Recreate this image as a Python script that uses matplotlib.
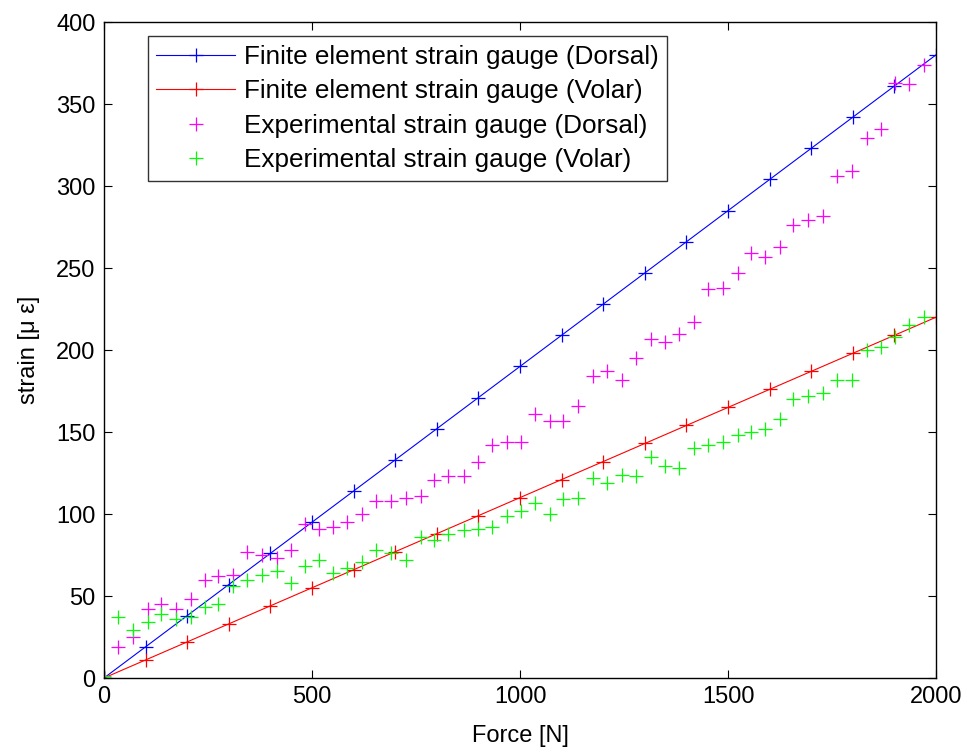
import numpy as np
import matplotlib
matplotlib.use('Agg')
import matplotlib.pyplot as plt

# finite element results, every 100 N
force_fe = [0, 100, 200, 300, 400, 500, 600, 700, 800, 900, 1000,
            1100, 1200, 1300, 1400, 1500, 1600, 1700, 1800, 1900, 2000]
fe_dorsal = [0, 19, 38, 57, 76, 95, 114, 133, 152, 171, 190,
             209, 228, 247, 266, 285, 304, 323, 342, 361, 380]
fe_volar = [0, 11, 22, 33, 44, 55, 66, 77, 88, 99, 110,
            121, 132, 143, 154, 165, 176, 187, 198, 209, 220]

# experimental readings
force_exp = [0, 34, 70, 105, 137, 173, 209, 243, 275, 311, 343, 381, 415, 449,
             483, 517, 551, 585, 621, 655, 691, 726, 762, 794, 828, 866, 900,
             932, 968, 1002, 1036, 1072, 1104, 1140, 1176, 1210, 1244, 1278,
             1314, 1349, 1383, 1419, 1451, 1487, 1523, 1555, 1589, 1625, 1657,
             1693, 1729, 1763, 1797, 1833, 1867, 1901, 1936, 1971]
exp_dorsal = [0, 19, 25, 42, 45, 42, 48, 60, 62, 63, 77, 75, 73, 78,
              94, 91, 92, 95, 100, 108, 108, 110, 111, 121, 123, 123, 132,
              142, 144, 144, 161, 157, 157, 166, 184, 187, 182, 195,
              207, 205, 210, 217, 237, 238, 247, 259, 257, 263, 276,
              279, 282, 306, 309, 329, 335, 363, 362, 374]
exp_volar = [1, 37, 29, 34, 39, 36, 37, 43, 45, 56, 60, 63, 65, 58,
             68, 72, 64, 67, 71, 78, 76, 72, 86, 84, 88, 90, 91,
             92, 99, 102, 107, 100, 109, 110, 122, 119, 124, 123,
             135, 129, 128, 140, 142, 144, 148, 150, 152, 158, 170,
             172, 174, 182, 182, 200, 202, 208, 215, 220]

labels = ['Finite element strain gauge (Dorsal)',
          'Finite element strain gauge (Volar)',
          'Experimental strain gauge (Dorsal)',
          'Experimental strain gauge (Volar)']

plt.rcParams['font.family'] = ['Liberation Sans', 'DejaVu Sans']

fig = plt.figure(figsize=(9.67, 7.52), dpi=100)
ax = fig.add_axes([0.1075, 0.0984, 0.8605, 0.8723])

ms = 10
ax.plot(force_fe, fe_dorsal, '-+', color=(0, 0, 1), lw=0.8, ms=ms, mew=0.9, label=labels[0])
ax.plot(force_fe, fe_volar, '-+', color=(1, 0, 0), lw=0.8, ms=ms, mew=0.9, label=labels[1])
ax.plot(force_exp, exp_dorsal, '+', color=(1, 0, 1), ms=ms, mew=0.9, label=labels[2])
ax.plot(force_exp, exp_volar, '+', color=(0, 1, 0), ms=ms, mew=0.9, label=labels[3])

ax.set_xlim(0, 2000)
ax.set_ylim(0, 400)
ax.set_xticks(np.arange(0, 2001, 500))
ax.set_yticks(np.arange(0, 401, 50))
ax.tick_params(direction='in', length=6, width=0.8, top=True, right=True,
               labelsize=17, pad=6)
for sp in ax.spines.values():
    sp.set_linewidth(1.0)

ax.set_xlabel('Force [N]', fontsize=17, labelpad=12)
ax.set_ylabel('strain [\u03bc \u03b5]', fontsize=17, labelpad=12)

leg = ax.legend(loc='upper left', bbox_to_anchor=(0.053, 0.978), fontsize=18.8,
                frameon=True, fancybox=False, edgecolor='black',
                handlelength=3.0, borderpad=0.32, labelspacing=0.4,
                handletextpad=0.35, borderaxespad=0)
leg.get_frame().set_linewidth(1.0)

fig.savefig('out.png', dpi=100)
